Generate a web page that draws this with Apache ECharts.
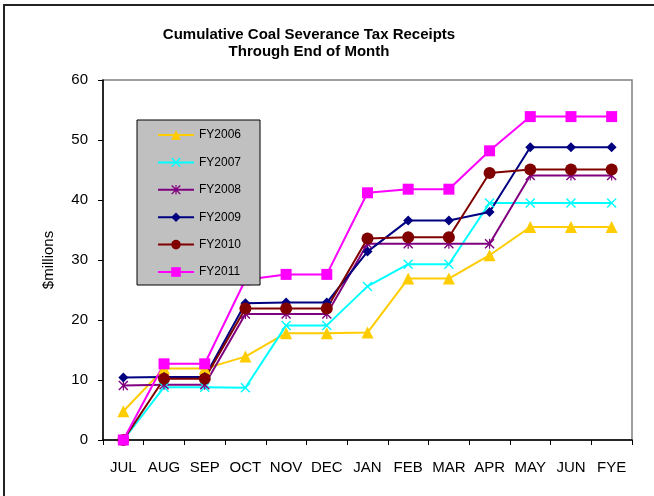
<!DOCTYPE html>
<html>
<head>
<meta charset="utf-8" />
<script src="https://cdn.jsdelivr.net/npm/echarts@6/dist/echarts.min.js"></script>
<style>
  html, body { margin: 0; padding: 0; background: #fff; }
  #main { width: 654px; height: 496px; }
</style>
</head>
<body>
<div id="main"></div>
<script type="text/javascript">
	// months of the fiscal year (FYE = fiscal year end)
	var months = ['JUL', 'AUG', 'SEP', 'OCT', 'NOV', 'DEC', 'JAN', 'FEB', 'MAR', 'APR', 'MAY', 'JUN', 'FYE'];

	// cumulative receipts, $millions
	var fy2006 = [4.8, 11.9, 11.9, 13.9, 17.8, 17.8, 17.9, 26.9, 26.9, 30.8, 35.5, 35.5, 35.5];
	var fy2007 = [0, 8.8, 8.8, 8.7, 19.1, 19.1, 25.6, 29.3, 29.3, 39.5, 39.5, 39.5, 39.5];
	var fy2008 = [9.1, 9.2, 9.2, 21.0, 21.0, 21.0, 32.7, 32.7, 32.7, 32.7, 44.1, 44.1, 44.1];
	var fy2009 = [10.4, 10.5, 10.5, 22.8, 22.9, 22.9, 31.4, 36.6, 36.6, 38.0, 48.8, 48.8, 48.8];
	var fy2010 = [0, 10.2, 10.2, 21.9, 21.9, 21.9, 33.6, 33.8, 33.8, 44.5, 45.1, 45.1, 45.1];
	var fy2011 = [0, 12.7, 12.7, 26.7, 27.6, 27.6, 41.2, 41.8, 41.8, 48.2, 53.9, 53.9, 53.9];

	var yTicks = [0, 10, 20, 30, 40, 50, 60];

	var font = 'Liberation Sans, Arial, sans-serif';

	// marker shapes like the old Excel ones
	var xMark = 'path://M0,1L1,0L5,4L9,0L10,1L6,5L10,9L9,10L5,6L1,10L0,9L4,5Z';
	var starMark = 'path://M0,1L1,0L5,4L9,0L10,1L6,5L10,9L9,10L5,6L1,10L0,9L4,5Z M4.4,0L5.6,0L5.6,10L4.4,10Z';

	function line(name, data, color, symbol, size) {
		return {
			name: name,
			type: 'line',
			data: data,
			symbol: symbol,
			symbolSize: size,
			lineStyle: { color: color, width: 2 },
			itemStyle: { color: color },
			emphasis: { disabled: true },
			animation: false
		};
	}

	var myChart = echarts.init(document.getElementById('main'));

	var option = {
		backgroundColor: '#fff',
		textStyle: { fontFamily: font },
		title: {
			text: 'Cumulative Coal Severance Tax Receipts\nThrough End of Month',
			left: 304,
			top: 21,
			textAlign: 'center',
			textStyle: { fontFamily: font, fontSize: 15, fontWeight: 'bold', color: '#000', lineHeight: 17 }
		},
		graphic: [{
			type: 'rect',
			shape: { x: 4, y: 5, width: 700, height: 600 },
			style: { fill: 'none', stroke: '#222', lineWidth: 2 },
			silent: true
		}],
		grid: {
			left: 103, right: 22, top: 80, bottom: 56,
			show: true,
			borderColor: '#808080',
			borderWidth: 1.5,
			backgroundColor: '#fff'
		},
		legend: {
			orient: 'vertical',
			left: 137,
			top: 120,
			itemWidth: 36,
			itemHeight: 12,
			itemGap: 15.4,
			padding: [9, 19, 7, 20],
			backgroundColor: '#c0c0c0',
			borderColor: '#000',
			borderWidth: 1,
			textStyle: { fontFamily: font, fontSize: 12, color: '#000' },
			data: ['FY2006', 'FY2007', 'FY2008', 'FY2009', 'FY2010', 'FY2011']
		},
		xAxis: {
			type: 'category',
			data: months,
			boundaryGap: true,
			axisLine: { lineStyle: { color: '#000', width: 1.5 } },
			axisTick: { show: true, alignWithLabel: false, length: 5, lineStyle: { color: '#000' } },
			axisLabel: { color: '#000', fontSize: 15, margin: 20, interval: 0 },
			splitLine: { show: false }
		},
		yAxis: {
			type: 'value',
			min: yTicks[0],
			max: yTicks[yTicks.length - 1],
			interval: 10,
			name: '$millions',
			nameLocation: 'middle',
			nameGap: 47,
			nameTextStyle: { color: '#000', fontSize: 15 },
			axisLine: { show: true, lineStyle: { color: '#000', width: 1.5 } },
			axisTick: { show: true, length: 5, lineStyle: { color: '#000' } },
			axisLabel: { color: '#000', fontSize: 15, margin: 15 },
			splitLine: { show: false }
		},
		series: [
			line('FY2006', fy2006, '#FFCC00', 'triangle', 12),
			line('FY2007', fy2007, '#00FFFF', xMark, 10),
			line('FY2008', fy2008, '#800080', starMark, 10),
			line('FY2009', fy2009, '#000080', 'diamond', 10),
			line('FY2010', fy2010, '#800000', 'circle', 12),
			line('FY2011', fy2011, '#FF00FF', 'rect', 11)
		]
	};

	myChart.setOption(option);
</script>
</body>
</html>
